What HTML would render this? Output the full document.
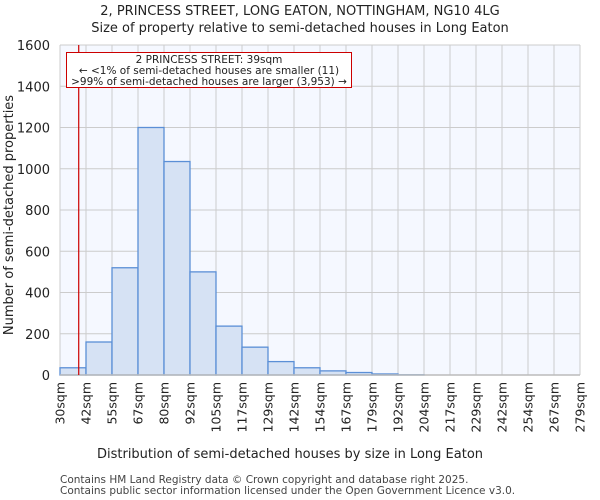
<!DOCTYPE html>
<html><head><meta charset="utf-8"><style>body{margin:0;background:#fff}svg{display:block;font-family:"DejaVu Sans","Liberation Sans",sans-serif}</style></head>
<body>
<svg id="chart" width="600" height="500">
<text x="300" y="15" text-anchor="middle" font-size="13" fill="#222">2, PRINCESS STREET, LONG EATON, NOTTINGHAM, NG10 4LG</text>
<text x="300" y="32" text-anchor="middle" font-size="13" fill="#222">Size of property relative to semi-detached houses in Long Eaton</text>
<rect x="60" y="45" width="520" height="330" fill="#f5f8ff"/>
<g id="grid"></g><g id="bars"></g><g id="axes"></g>
<text x="290" y="458" text-anchor="middle" font-size="13" fill="#222">Distribution of semi-detached houses by size in Long Eaton</text>
<text transform="translate(13,215) rotate(-90)" text-anchor="middle" font-size="13" fill="#222">Number of semi-detached properties</text>
<line id="marker" y1="45" y2="375" stroke="#cc0000" stroke-width="1.2"/>
<g>
<rect x="66.5" y="52.5" width="285" height="35" fill="#fff" stroke="#cc0000"/>
<text x="209" y="63" text-anchor="middle" font-size="10.5" fill="#222">2 PRINCESS STREET: 39sqm</text>
<text x="209" y="74" text-anchor="middle" font-size="10.5" fill="#222">← &lt;1% of semi-detached houses are smaller (11)</text>
<text x="209" y="85" text-anchor="middle" font-size="10.5" fill="#222">&gt;99% of semi-detached houses are larger (3,953) →</text>
</g>
<text x="60" y="483" font-size="10.5" fill="#444">Contains HM Land Registry data © Crown copyright and database right 2025.</text>
<text x="60" y="494" font-size="10.5" fill="#444">Contains public sector information licensed under the Open Government Licence v3.0.</text>
</svg>
<script>
const binLabels=["30sqm","42sqm","55sqm","67sqm","80sqm","92sqm","105sqm","117sqm","129sqm","142sqm","154sqm","167sqm","179sqm","192sqm","204sqm","217sqm","229sqm","242sqm","254sqm","267sqm","279sqm"];
const counts=[35,160,520,1200,1035,500,237,135,65,35,20,12,5,1,0,0,0,0,0,0];
const yTicks=[0,200,400,600,800,1000,1200,1400,1600];
const markerIndex=0.72;
const NS="http://www.w3.org/2000/svg";
const L=60,R=580,T=45,B=375,yMax=1600;
const bw=(R-L)/counts.length;
const xs=i=>L+i*bw, ys=v=>B-v/yMax*(B-T);
function mk(t,a,p){const e=document.createElementNS(NS,t);for(const k in a)e.setAttribute(k,a[k]);p.appendChild(e);return e;}
const g=document.getElementById('grid'),bg=document.getElementById('bars'),ax=document.getElementById('axes');
for(let i=0;i<=counts.length;i++){const l=mk('line',{x1:xs(i),x2:xs(i),y1:T,y2:B,stroke:'#cccccc'},g);
}
yTicks.forEach(v=>{const l=mk('line',{x1:L,x2:R,y1:ys(v),y2:ys(v),stroke:'#cccccc'},g);

const t=mk('text',{x:L-10,y:ys(v)+5,'text-anchor':'end','font-size':13,fill:'#222'},ax);t.textContent=v;
});
counts.forEach((v,i)=>{if(v<=0)return;const r=mk('rect',{x:xs(i),y:ys(v),width:bw,height:B-ys(v),fill:'#d6e2f4',stroke:'#5b8fd6','stroke-width':1.3},bg);
});
binLabels.forEach((s,i)=>{const t=mk('text',{transform:`translate(${xs(i)+4.5},382) rotate(-90)`,'text-anchor':'end','font-size':12.5,fill:'#222'},ax);t.textContent=s;
});
const base=mk('line',{x1:L,x2:R,y1:B,y2:B,stroke:'#bbbbbb','stroke-width':1.5},ax);

const m=document.getElementById('marker');m.setAttribute('x1',xs(markerIndex));m.setAttribute('x2',xs(markerIndex));
</script>
</body></html>
